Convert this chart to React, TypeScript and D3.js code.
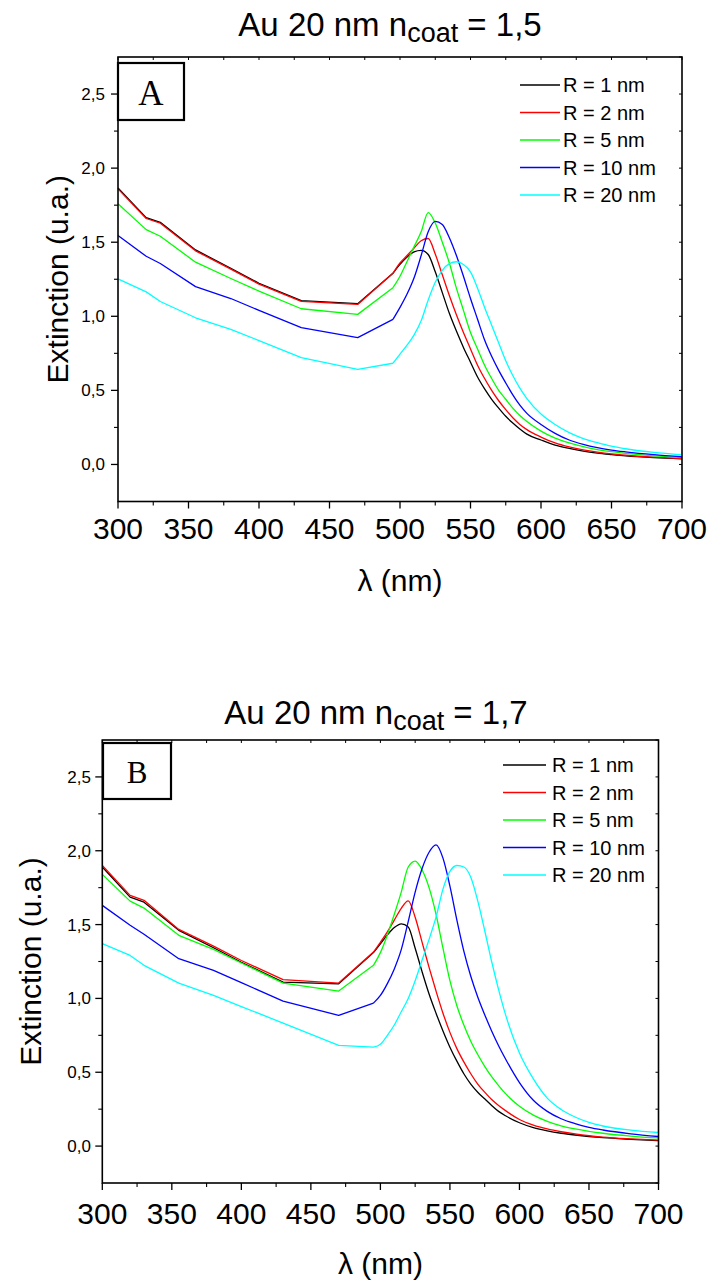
import React from "react";
import * as d3 from "d3";

// Wavelength grid (nm)
const LAMBDA = [300, 320, 330, 355, 380, 400, 430, 470, 495, 500, 505, 510, 515, 520, 525, 530, 535, 540, 545, 550, 555, 560, 565, 570, 575, 580, 585, 590, 600, 610, 620, 630, 640, 650, 660, 680, 700];
// Tabulated (piecewise-linear) part ends and smooth resonance part starts here (nm)
const SPLIT_LAMBDA = 495;

// Panel A : n_coat = 1,5
const A_R1 = [1.866, 1.666, 1.634, 1.448, 1.324, 1.223, 1.106, 1.085, 1.29, 1.35, 1.40, 1.435, 1.445, 1.417, 1.30, 1.16, 1.02, 0.90, 0.79, 0.69, 0.59, 0.51, 0.44, 0.38, 0.325, 0.28, 0.24, 0.205, 0.165, 0.13, 0.108, 0.09, 0.077, 0.067, 0.058, 0.046, 0.038];
const A_R2 = [1.86, 1.66, 1.628, 1.442, 1.318, 1.217, 1.10, 1.08, 1.29, 1.36, 1.41, 1.46, 1.51, 1.525, 1.42, 1.28, 1.14, 1.01, 0.89, 0.78, 0.67, 0.58, 0.50, 0.43, 0.37, 0.315, 0.27, 0.235, 0.185, 0.145, 0.118, 0.098, 0.083, 0.071, 0.062, 0.049, 0.04];
const A_R5 = [1.76, 1.585, 1.54, 1.365, 1.255, 1.17, 1.051, 1.013, 1.193, 1.27, 1.37, 1.47, 1.57, 1.70, 1.63, 1.50, 1.36, 1.19, 1.04, 0.89, 0.78, 0.67, 0.58, 0.50, 0.44, 0.38, 0.33, 0.29, 0.225, 0.178, 0.145, 0.12, 0.10, 0.086, 0.075, 0.058, 0.047];
const A_R10 = [1.545, 1.405, 1.356, 1.20, 1.12, 1.04, 0.923, 0.856, 0.979, 1.06, 1.15, 1.26, 1.41, 1.57, 1.64, 1.62, 1.53, 1.41, 1.27, 1.12, 0.98, 0.84, 0.73, 0.635, 0.55, 0.47, 0.40, 0.345, 0.27, 0.21, 0.165, 0.135, 0.113, 0.097, 0.085, 0.066, 0.052];
const A_R20 = [1.253, 1.165, 1.10, 0.99, 0.912, 0.836, 0.721, 0.642, 0.683, 0.745, 0.805, 0.875, 0.97, 1.11, 1.23, 1.31, 1.355, 1.368, 1.35, 1.30, 1.19, 1.06, 0.94, 0.82, 0.70, 0.60, 0.515, 0.445, 0.34, 0.27, 0.215, 0.175, 0.147, 0.123, 0.106, 0.081, 0.065];

// Panel B : n_coat = 1,7
const B_R1 = [1.89, 1.686, 1.652, 1.461, 1.343, 1.245, 1.11, 1.099, 1.31, 1.37, 1.43, 1.48, 1.505, 1.483, 1.34, 1.18, 1.03, 0.90, 0.78, 0.67, 0.575, 0.49, 0.42, 0.365, 0.32, 0.275, 0.235, 0.205, 0.158, 0.125, 0.103, 0.087, 0.075, 0.065, 0.057, 0.046, 0.037];
const B_R2 = [1.901, 1.698, 1.664, 1.467, 1.354, 1.257, 1.127, 1.104, 1.314, 1.38, 1.45, 1.53, 1.61, 1.66, 1.55, 1.38, 1.21, 1.05, 0.90, 0.77, 0.66, 0.57, 0.49, 0.42, 0.365, 0.315, 0.275, 0.24, 0.18, 0.142, 0.116, 0.097, 0.082, 0.07, 0.061, 0.049, 0.04];
const B_R5 = [1.84, 1.659, 1.612, 1.427, 1.332, 1.24, 1.104, 1.05, 1.224, 1.31, 1.43, 1.57, 1.72, 1.89, 1.93, 1.87, 1.75, 1.57, 1.34, 1.12, 0.95, 0.82, 0.71, 0.62, 0.54, 0.47, 0.41, 0.355, 0.27, 0.21, 0.168, 0.137, 0.116, 0.1, 0.087, 0.068, 0.055];
const B_R10 = [1.63, 1.495, 1.434, 1.269, 1.19, 1.107, 0.982, 0.885, 0.968, 1.02, 1.10, 1.20, 1.33, 1.52, 1.72, 1.88, 1.99, 2.04, 1.95, 1.76, 1.53, 1.32, 1.15, 1.01, 0.89, 0.78, 0.68, 0.59, 0.43, 0.31, 0.235, 0.185, 0.152, 0.127, 0.109, 0.083, 0.065];
const B_R20 = [1.371, 1.291, 1.224, 1.104, 1.02, 0.945, 0.833, 0.682, 0.67, 0.69, 0.75, 0.82, 0.91, 1.00, 1.12, 1.26, 1.40, 1.55, 1.74, 1.86, 1.90, 1.89, 1.82, 1.66, 1.46, 1.25, 1.06, 0.89, 0.63, 0.455, 0.325, 0.248, 0.197, 0.16, 0.136, 0.108, 0.092];

const LEGEND_LABELS = ["R = 1 nm", "R = 2 nm", "R = 5 nm", "R = 10 nm", "R = 20 nm"];
const COLORS = ["#000000", "#ff0000", "#00ff00", "#0000ff", "#00ffff"];
const X_TICKS = [300, 350, 400, 450, 500, 550, 600, 650, 700];
const Y_TICKS = [0, 0.5, 1.0, 1.5, 2.0, 2.5];
const X_DOMAIN = [300, 700];
const Y_DOMAIN = [-0.25, 2.75];

const SANS = "'Liberation Sans', Arial, Helvetica, sans-serif";
const SERIF = "'Liberation Serif', 'Times New Roman', serif";

type Layout = {
  left: number; right: number; top: number; bottom: number;
  titleX: number; titleY: number; titleText: string;
  letter: string; box: [number, number, number, number]; letterX: number; letterY: number; letterSize: number;
  legX0: number; legX1: number; legTextX: number; legY0: number; legDy: number;
  yTickLabelX: number; yLabelX: number;
  xTickLabelY: number; xLabelY: number;
};

function Panel({ L, series }: { L: Layout; series: number[][] }) {
  const x = d3.scaleLinear().domain(X_DOMAIN).range([L.left, L.right]);
  const y = d3.scaleLinear().domain(Y_DOMAIN).range([L.bottom, L.top]);
  const split = LAMBDA.indexOf(SPLIT_LAMBDA);
  const pts = (s: number[]) => s.map((v, i) => [x(LAMBDA[i]), y(v)] as [number, number]);
  const linGen = d3.line().curve(d3.curveLinear);
  const smoothGen = d3.line().curve(d3.curveMonotoneX);
  const pathFor = (s: number[]) => {
    const p = pts(s);
    return (linGen(p.slice(0, split + 1)) || "") + (smoothGen(p.slice(split)) || "");
  };
  const fmt = (v: number) => d3.format(".1f")(v).replace(".", ",");
  const minorX = d3.range(325, 700, 50);
  const allX25 = d3.range(300, 701, 25);
  const minorY = d3.range(0.25, 2.5, 0.5);
  const allY25 = d3.range(-0.25, 2.76, 0.25);
  const midY = (L.top + L.bottom) / 2;
  const midX = (L.left + L.right) / 2;
  return (
    <g>
      <text x={L.titleX} y={L.titleY} textAnchor="middle" fontFamily={SANS} fontSize={33}>
        Au 20 nm n<tspan fontSize={27} dy={6}>coat</tspan>
        <tspan dy={-6}>{L.titleText}</tspan>
      </text>
      {series.map((s, i) => (
        <path key={i} d={pathFor(s)} fill="none" stroke={COLORS[i]} strokeWidth={1.3} strokeLinejoin="round" />
      ))}
      <rect x={L.left} y={L.top} width={L.right - L.left} height={L.bottom - L.top} fill="none" stroke="#000" strokeWidth={1.6} />
      {X_TICKS.map((t) => (
        <line key={"xb" + t} x1={x(t)} x2={x(t)} y1={L.bottom} y2={L.bottom + 7} stroke="#000" strokeWidth={1.3} />
      ))}
      {minorX.map((t) => (
        <line key={"xm" + t} x1={x(t)} x2={x(t)} y1={L.bottom} y2={L.bottom + 4} stroke="#000" strokeWidth={1.1} />
      ))}
      {allX25.map((t) => (
        <line key={"xt" + t} x1={x(t)} x2={x(t)} y1={L.top} y2={L.top + 3} stroke="#000" strokeWidth={1} />
      ))}
      {Y_TICKS.map((t) => (
        <line key={"yl" + t} x1={L.left - 7} x2={L.left} y1={y(t)} y2={y(t)} stroke="#000" strokeWidth={1.3} />
      ))}
      {minorY.map((t) => (
        <line key={"ym" + t} x1={L.left - 4} x2={L.left} y1={y(t)} y2={y(t)} stroke="#000" strokeWidth={1.1} />
      ))}
      {allY25.map((t) => (
        <line key={"yr" + t} x1={L.right - 3} x2={L.right} y1={y(t)} y2={y(t)} stroke="#000" strokeWidth={1} />
      ))}
      {X_TICKS.map((t) => (
        <text key={"xl" + t} x={x(t)} y={L.xTickLabelY} textAnchor="middle" fontFamily={SANS} fontSize={30}>
          {t}
        </text>
      ))}
      {Y_TICKS.map((t) => (
        <text key={"ylab" + t} x={L.yTickLabelX} y={y(t)} dy="0.35em" textAnchor="end" fontFamily={SANS} fontSize={17}>
          {fmt(t)}
        </text>
      ))}
      <text x={midX} y={L.xLabelY} textAnchor="middle" fontFamily={SANS} fontSize={30}>
        λ (nm)
      </text>
      <text transform={`translate(${L.yLabelX},${midY}) rotate(-90)`} textAnchor="middle" fontFamily={SANS} fontSize={30}>
        Extinction (u.a.)
      </text>
      <rect x={L.box[0]} y={L.box[1]} width={L.box[2] - L.box[0]} height={L.box[3] - L.box[1]} fill="#fff" stroke="#000" strokeWidth={2.2} />
      <text x={L.letterX} y={L.letterY} textAnchor="middle" fontFamily={SERIF} fontSize={L.letterSize}>
        {L.letter}
      </text>
      {LEGEND_LABELS.map((lab, i) => {
        const yy = L.legY0 + i * L.legDy;
        return (
          <g key={lab}>
            <line x1={L.legX0} x2={L.legX1} y1={yy} y2={yy} stroke={COLORS[i]} strokeWidth={1.4} />
            <text x={L.legTextX} y={yy} dy="0.36em" fontFamily={SANS} fontSize={20}>
              {lab}
            </text>
          </g>
        );
      })}
    </g>
  );
}

const LAYOUT_A: Layout = {
  left: 118, right: 682, top: 57, bottom: 501.5,
  titleX: 390, titleY: 36, titleText: " = 1,5",
  letter: "A", box: [118, 63, 184, 120], letterX: 151, letterY: 105, letterSize: 35,
  legX0: 520, legX1: 560, legTextX: 563, legY0: 85, legDy: 27.5,
  yTickLabelX: 105, yLabelX: 68,
  xTickLabelY: 539, xLabelY: 591,
};

const LAYOUT_B: Layout = {
  left: 102.3, right: 658.5, top: 740, bottom: 1183,
  titleX: 376, titleY: 724, titleText: " = 1,7",
  letter: "B", box: [103, 743, 171, 799], letterX: 137, letterY: 783, letterSize: 31,
  legX0: 503, legX1: 546, legTextX: 552, legY0: 765, legDy: 27.5,
  yTickLabelX: 91, yLabelX: 41,
  xTickLabelY: 1224, xLabelY: 1274,
};

export default function App() {
  return (
    <svg width={711} height={1283} style={{ position: "absolute", left: 0, top: 0, background: "#fff" }}>
      <rect x={0} y={0} width={711} height={1283} fill="#fff" />
      <Panel L={LAYOUT_A} series={[A_R1, A_R2, A_R5, A_R10, A_R20]} />
      <Panel L={LAYOUT_B} series={[B_R1, B_R2, B_R5, B_R10, B_R20]} />
    </svg>
  );
}
